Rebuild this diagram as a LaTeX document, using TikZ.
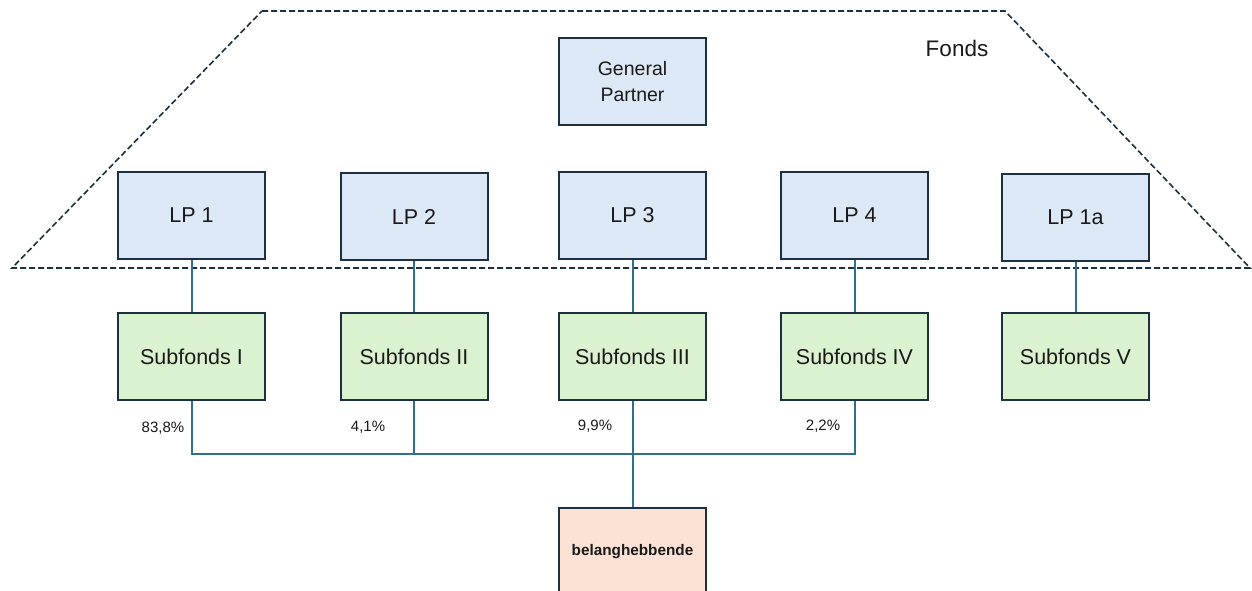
\documentclass[tikz,border=0pt]{standalone}
\usepackage{fontspec}
\setmainfont{Liberation Sans}
\definecolor{boxline}{HTML}{1B3040}
\definecolor{conn}{HTML}{2F6F8F}
\definecolor{lpfill}{HTML}{DCE8F5}
\definecolor{sffill}{HTML}{DAF2D0}
\definecolor{belfill}{HTML}{FBE2D5}
\definecolor{txt}{HTML}{1A1A1A}
\begin{document}
\begin{tikzpicture}[x=1pt,y=-1pt,
  box/.style={draw=boxline,line width=2pt,minimum width=147pt,minimum height=87pt,inner sep=0pt,align=center,text=txt},
  lpbox/.style={box,fill=lpfill,font=\fontsize{21.5}{26}\selectfont},
  sfbox/.style={box,fill=sffill,font=\fontsize{21.5}{26}\selectfont},
  pct/.style={font=\fontsize{15}{17}\selectfont,text=txt,inner sep=0pt},
  link/.style={draw=conn,line width=2pt},
  fence/.style={draw=boxline,line width=1.6pt,dash pattern=on 6pt off 3pt}]
\useasboundingbox (0,0) rectangle (1252,591);
\clip (0,0) rectangle (1252,591);
\fill[white] (0,0) rectangle (1252,591);
\draw[fence] (262,11) -- (1005,11) -- (1250,268) -- (12,268) -- cycle;
\node[text=txt,font=\fontsize{22.5}{26}\selectfont] (fonds) at (957,48) {Fonds};
\node[box,fill=lpfill,font=\fontsize{19.5}{26}\selectfont] (gp) at (632.5,81.5) {General\\Partner};
\node[lpbox] (lp1) at (191.5,215.5) {LP 1};
\node[lpbox] (lp2) at (414,216.5) {LP 2};
\node[lpbox] (lp3) at (632.5,215.5) {LP 3};
\node[lpbox] (lp4) at (854.5,215.5) {LP 4};
\node[lpbox] (lp5) at (1075.5,217.5) {LP 1a};
\node[sfbox] (sf1) at (191.5,356.5) {Subfonds I};
\node[sfbox] (sf2) at (414,356.5) {Subfonds II};
\node[sfbox] (sf3) at (632.5,356.5) {Subfonds III};
\node[sfbox] (sf4) at (854.5,356.5) {Subfonds IV};
\node[sfbox] (sf5) at (1075.5,356.5) {Subfonds V};
\node[box,fill=belfill,font=\fontsize{15.3}{17}\selectfont\bfseries] (bel) at (632.5,551.5) {belanghebbende};
\coordinate (bus) at (0,454);
\draw[link] (lp1) -- (sf1);
\draw[link] (lp2) -- (sf2);
\draw[link] (lp3) -- (sf3);
\draw[link] (lp4) -- (sf4);
\draw[link] (lp5) -- (sf5);
\draw[link] (sf1.south) -- (sf1.south |- bus) -- (sf4.south |- bus) -- (sf4.south);
\draw[link] (sf2.south) -- (sf2.south |- bus);
\draw[link] (sf3.south) -- (bel.north);
\node[pct] (p1) at (163,428) {83,8\%};
\node[pct] (p2) at (368,427) {4,1\%};
\node[pct] (p3) at (595,426) {9,9\%};
\node[pct] (p4) at (823,426) {2,2\%};
\end{tikzpicture}
\end{document}
